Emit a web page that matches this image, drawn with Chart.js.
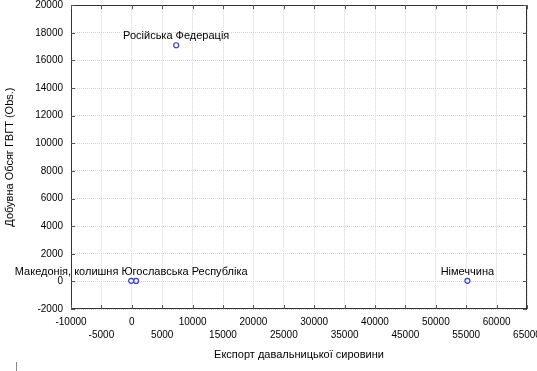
<!DOCTYPE html>
<html><head><meta charset="utf-8">
<script src="https://cdn.jsdelivr.net/npm/chart.js@4/dist/chart.umd.min.js"></script>
<style>html,body{margin:0;padding:0;background:#fff}#w{width:537px;height:371px;position:relative}</style>
</head><body><div id="w"><canvas id="c" width="537" height="371"></canvas></div>
<script>
const countries = ['Російська Федерація', 'Німеччина', 'Македонія, колишня Югославська Республіка', ''];
const exportValues = [7300, 55200, -100, 700];
const volumeValues = [17100, 40, 40, 30];
const xTickValues = [-10000, -5000, 0, 5000, 10000, 15000, 20000, 25000, 30000, 35000, 40000, 45000, 50000, 55000, 60000, 65000];
const yTickValues = [-2000, 0, 2000, 4000, 6000, 8000, 10000, 12000, 14000, 16000, 18000, 20000];
const xTitle = 'Експорт давальницької сировини';
const yTitle = 'Добувна Обсяг ГВГТ (Obs.)';

const FONT = '"Liberation Sans", Arial, sans-serif';

const framePlugin = {
  id: 'frame',
  beforeDatasetsDraw(chart) {
    const {ctx, chartArea: a, scales: {x, y}} = chart;
    ctx.save();
    ctx.strokeStyle = '#333';
    ctx.lineWidth = 1;
    ctx.strokeRect(Math.round(a.left) + 0.5, Math.round(a.top) + 0.5, Math.round(a.right - a.left) - 1, Math.round(a.bottom - a.top) - 1);
    const L = 4;
    ctx.strokeStyle = '#555';
    ctx.beginPath();
    x.ticks.forEach(t => {
      const px = Math.round(x.getPixelForValue(t.value)) + 0.5;
      ctx.moveTo(px, a.top); ctx.lineTo(px, a.top + L);
      ctx.moveTo(px, a.bottom); ctx.lineTo(px, a.bottom - L);
    });
    y.ticks.forEach(t => {
      const py = Math.round(y.getPixelForValue(t.value)) + 0.5;
      ctx.moveTo(a.left, py); ctx.lineTo(a.left + L, py);
      ctx.moveTo(a.right, py); ctx.lineTo(a.right - L, py);
    });
    ctx.stroke();
    // small stray mark at lower left
    ctx.strokeStyle = '#888';
    ctx.beginPath(); ctx.moveTo(16.5, 362); ctx.lineTo(16.5, 371); ctx.stroke();
    ctx.restore();
  },
  afterDatasetsDraw(chart) {
    const {ctx} = chart;
    const meta = chart.getDatasetMeta(0);
    ctx.save();
    ctx.font = '11px ' + FONT;
    ctx.fillStyle = '#000';
    ctx.textAlign = 'center';
    ctx.textBaseline = 'middle';
    meta.data.forEach((pt, i) => {
      if (countries[i]) ctx.fillText(countries[i], pt.x, pt.y - 9);
    });
    ctx.restore();
  }
};

new Chart(document.getElementById('c'), {
  type: 'scatter',
  data: {
    datasets: [{
      data: exportValues.map((v, i) => ({x: v, y: volumeValues[i]})),
      pointRadius: 2.5,
      pointBorderWidth: 1.2,
      pointBorderColor: '#3a3ad0',
      pointBackgroundColor: 'rgba(255,255,255,0)',
      pointStyle: 'circle'
    }]
  },
  options: {
    responsive: false,
    animation: false,
    devicePixelRatio: 1,
    layout: {padding: {top: 4, right: 10, left: 0, bottom: 0}},
    plugins: {legend: {display: false}, tooltip: {enabled: false}},
    scales: {
      x: {
        type: 'linear', min: -10000, max: 65000,
        afterBuildTicks: s => { s.ticks = xTickValues.map(v => ({value: v})); },
        afterFit: s => { s.height = 62; s.paddingLeft = 0; s.paddingRight = 0; },
        ticks: {
          autoSkip: false, maxRotation: 0, minRotation: 0, padding: 7,
          color: '#000', font: {family: FONT, size: 10, lineHeight: 1.25},
          callback: (v, i) => i % 2 === 0 ? [String(v), ''] : ['', String(v)]
        },
        grid: {color: '#d6d6d6', lineWidth: 1, drawTicks: false},
        border: {display: false, dash: [1, 1]},
        title: {display: true, text: xTitle, color: '#000', font: {family: FONT, size: 11}, padding: {top: 0, bottom: 9}}
      },
      y: {
        type: 'linear', min: -2000, max: 20000,
        afterBuildTicks: s => { s.ticks = yTickValues.map(v => ({value: v})); },
        afterFit: s => { s.width = 71; s.paddingTop = 0; s.paddingBottom = 0; },
        ticks: {
          autoSkip: false, padding: 8,
          color: '#000', font: {family: FONT, size: 10},
          callback: v => String(v)
        },
        grid: {color: '#d6d6d6', lineWidth: 1, drawTicks: false},
        border: {display: false, dash: [1, 1]},
        title: {display: true, text: yTitle, color: '#000', font: {family: FONT, size: 11}, padding: {top: 3, bottom: 0}}
      }
    }
  },
  plugins: [framePlugin]
});
</script>
</body></html>
